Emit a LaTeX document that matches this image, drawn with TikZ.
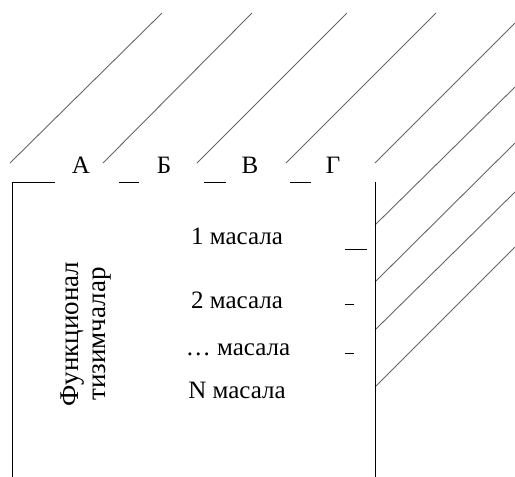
\documentclass[tikz,border=0pt]{standalone}
\usepackage{fontspec}
\setmainfont{Liberation Serif}
\begin{document}
\begin{tikzpicture}[x=1pt,y=-1pt,
  hatch/.style={draw=black!60,line width=0.9pt},
  frame/.style={draw=black,line width=1pt},
  lbl/.style={font=\fontsize{25}{29}\selectfont,anchor=base,inner sep=0pt},
  vlbl/.style={font=\fontsize{27}{31}\selectfont,anchor=base,inner sep=0pt,rotate=90}]
\useasboundingbox (0,0) rectangle (515,477);
% hatch lines above
\draw[hatch] (10,163) -- (162,13);
\draw[hatch] (103,163) -- (252,13);
\draw[hatch] (197,163) -- (347,13);
\draw[hatch] (286,163) -- (436,13);
\draw[hatch] (375,163) -- (515,23);
% hatch lines right
\draw[hatch] (375,225) -- (515,87);
\draw[hatch] (375,282) -- (515,143);
\draw[hatch] (375,330) -- (515,192);
\draw[hatch] (375,387) -- (515,247);
% frame
\draw[frame] (12,477) -- (12,182) -- (55,182);
\draw[frame] (119,182) -- (139,182);
\draw[frame] (204,182) -- (226,182);
\draw[frame] (290,182) -- (311,182);
\draw[frame] (375,182) -- (375,477);
% ticks
\draw[frame] (345,249) -- (367,249);
\draw[frame] (345,304) -- (354,304);
\draw[frame] (345,353) -- (354,353);
% top letters
\node[lbl] (a) at (81,173) {А};
\node[lbl] (b) at (164,173) {Б};
\node[lbl] (v) at (250,173) {В};
\node[lbl] (g) at (333,173) {Г};
% tasks
\node[lbl] (m1) at (237,244) {1 масала};
\node[lbl] (m2) at (237,308) {2 масала};
\node[lbl] (m3) at (238,355) {… масала};
\node[lbl] (mn) at (237,398) {N масала};
% vertical text
\node[vlbl] (f1) at (78,334) {Функционал};
\node[vlbl] (f2) at (105,334) {тизимчалар};
\end{tikzpicture}
\end{document}
